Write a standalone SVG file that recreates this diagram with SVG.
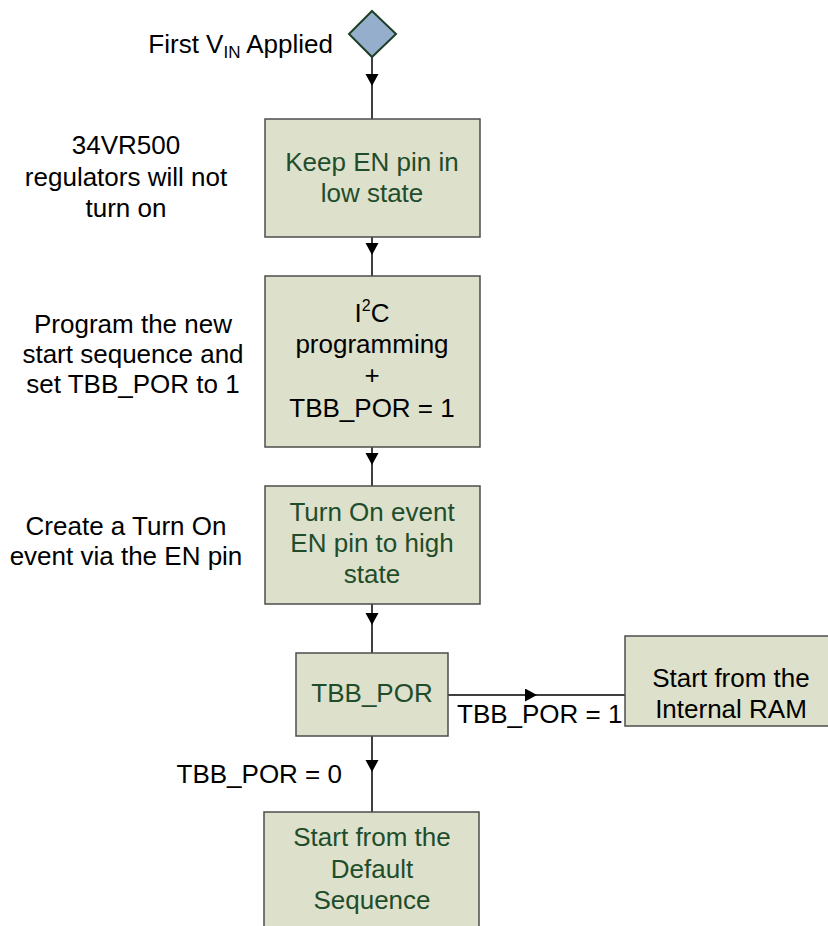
<svg xmlns="http://www.w3.org/2000/svg" width="828" height="926" viewBox="0 0 828 926">
<defs>
<style>
.box{fill:#dde0ca;stroke:#4d4d4d;stroke-width:1.5}
.t{font-family:"Liberation Sans",Arial,sans-serif;font-size:26px;text-anchor:middle}
.g{fill:#1f4d2c}
.k{fill:#000}
.lbl{font-family:"Liberation Sans",Arial,sans-serif;font-size:26px;fill:#000}
.conn{fill:none;stroke:#000;stroke-width:1.5;marker-mid:url(#arr)}
</style>
<marker id="arr" markerUnits="userSpaceOnUse" markerWidth="13" markerHeight="14" refX="12" refY="6.5" orient="auto">
<path d="M0,0 L12,6.5 L0,13 z" fill="#000"/>
</marker>
</defs>
<rect width="828" height="926" fill="#fff"/>
<g id="connectors">
<path class="conn" d="M372 57 L372 86 L372 119"/>
<path class="conn" d="M372 237 L372 255 L372 276"/>
<path class="conn" d="M372 447 L372 465 L372 486"/>
<path class="conn" d="M372 604 L372 625 L372 653"/>
<path class="conn" d="M372 736 L372 772 L372 812"/>
<path class="conn" d="M448 695 L537 695 L625 695"/>
</g>
<g id="start">
<polygon points="372,11 396,34 372,57 349,34" fill="#94aecb" stroke="#1e3f26" stroke-width="2"/>
<text class="lbl" x="333" y="53" text-anchor="end">First V<tspan font-size="17" dy="5">IN</tspan><tspan dy="-5"> Applied</tspan></text>
</g>
<g id="keep-en">
<rect class="box" x="265" y="119" width="215" height="118"/>
<text class="t g" x="372" y="171">Keep EN pin in</text>
<text class="t g" x="372" y="202">low state</text>
</g>
<g id="note-regulators">
<text class="t k" x="126" y="154">34VR500</text>
<text class="t k" x="126" y="186">regulators will not</text>
<text class="t k" x="126" y="217">turn on</text>
</g>
<g id="i2c">
<rect class="box" x="265" y="276" width="215" height="171"/>
<text class="t k" x="372" y="322">I<tspan font-size="16" dy="-11">2</tspan><tspan dy="11">C</tspan></text>
<text class="t k" x="372" y="353">programming</text>
<text class="t k" x="372" y="384">+</text>
<text class="t k" x="372" y="417">TBB_POR = 1</text>
</g>
<g id="note-program">
<text class="t k" x="133" y="333">Program the new</text>
<text class="t k" x="133" y="363">start sequence and</text>
<text class="t k" x="133" y="393">set TBB_POR to 1</text>
</g>
<g id="turn-on">
<rect class="box" x="265" y="486" width="215" height="118"/>
<text class="t g" x="372" y="521">Turn On event</text>
<text class="t g" x="372" y="552">EN pin to high</text>
<text class="t g" x="372" y="583">state</text>
</g>
<g id="note-create">
<text class="t k" x="126" y="535">Create a Turn On</text>
<text class="t k" x="126" y="565">event via the EN pin</text>
</g>
<g id="tbb-por">
<rect class="box" x="296" y="653" width="152" height="83"/>
<text class="t g" x="372" y="702">TBB_POR</text>
</g>
<g id="internal-ram">
<rect class="box" x="625" y="636" width="210" height="90"/>
<text class="t k" x="731" y="687">Start from the</text>
<text class="t k" x="731" y="718">Internal RAM</text>
</g>
<g id="default-seq">
<rect class="box" x="264" y="812" width="215" height="130"/>
<text class="t g" x="372" y="846">Start from the</text>
<text class="t g" x="372" y="878">Default</text>
<text class="t g" x="372" y="909">Sequence</text>
</g>
<g id="edge-labels">
<text class="lbl" x="342" y="783" text-anchor="end">TBB_POR = 0</text>
<text class="lbl" x="457" y="723">TBB_POR = 1</text>
</g>
</svg>
